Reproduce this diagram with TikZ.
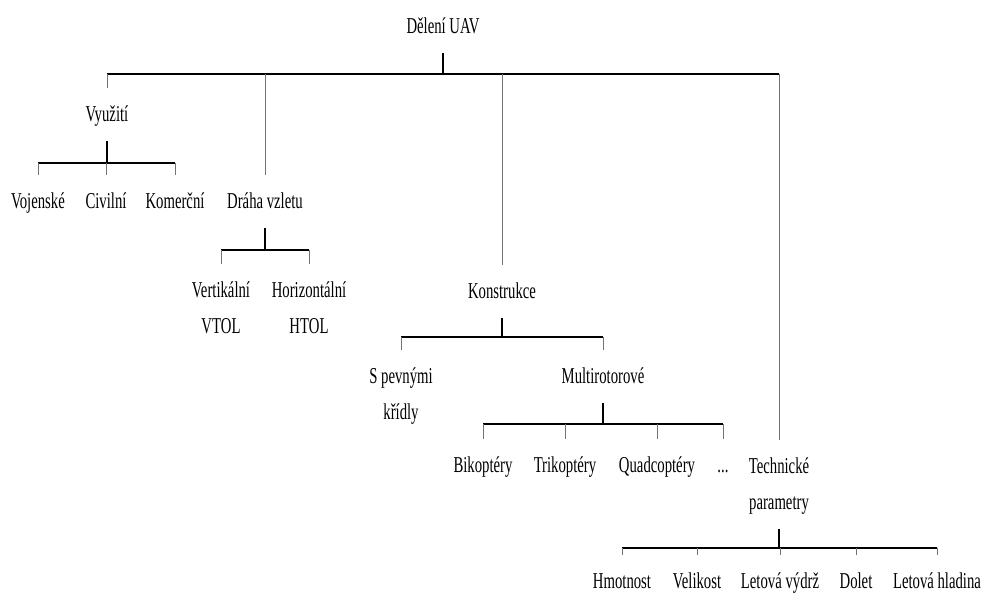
\documentclass[tikz,border=0pt]{standalone}
\usepackage{fontspec}
\setmainfont[FakeStretch=0.65]{Liberation Serif}
\usepackage{tikz}
\usetikzlibrary{positioning}

\begin{document}
\begin{tikzpicture}[x=0.75pt, y=-0.75pt,
    every node/.style={font=\fontsize{17}{27}\selectfont, anchor=base, align=center,
        inner xsep=1pt, inner ysep=0pt, text height=24.75pt, text depth=15pt},
    twoline/.style={text height=51.75pt},
    stem/.style={line width=0.9pt, black},
    bar/.style={line width=0.9pt, black},
    drop/.style={line width=0.6pt, black!55}]
        \useasboundingbox (0,0) rectangle (986,596);

        % uzly
        \node (uav) at (443,33) {Dělení UAV};
        \node (vyuziti) at (107,121) {Využití};
        \node (vojenske) at (38,208) {Vojenské};
        \node (civilni) at (106,208) {Civilní};
        \node (komercni) at (175,208) {Komerční};
        \node (draha) at (265,208) {Dráha vzletu};
        \node[twoline] (vtol) at (221,333) {Vertikální\\VTOL};
        \node[twoline] (htol) at (309,333) {Horizontální\\HTOL};
        \node (konstr) at (502,298) {Konstrukce};
        \node[twoline] (pevna) at (401,419) {S pevnými\\křídly};
        \node (multi) at (603,383) {Multirotorové};
        \node (bi) at (483,472) {Bikoptéry};
        \node (tri) at (565,472) {Trikoptéry};
        \node (quad) at (657,472) {Quadcoptéry};
        \node (dalsi) at (723,472) {...};
        \node[twoline] (tech) at (779,509) {Technické\\parametry};
        \node (hmot) at (622,588) {Hmotnost};
        \node (velik) at (697,588) {Velikost};
        \node (vydrz) at (780,588) {Letová výdrž};
        \node (dolet) at (856,588) {Dolet};
        \node (hlad) at (937,588) {Letová hladina};

        % rozbočení
        \coordinate (j0) at (443,74);
        \coordinate (j1) at (107,163);
        \coordinate (j2) at (265,250);
        \coordinate (j3) at (502,337);
        \coordinate (j4) at (603,424);
        \coordinate (j5) at (780,548);

        % Dělení UAV
        \draw[stem] (uav) -- (uav |- j0);
        \draw[bar] (vyuziti |- j0) -- (tech |- j0);
        \foreach \n in {vyuziti, draha, konstr, tech}
            \draw[drop] (\n |- j0) -- (\n);

        % Využití
        \draw[stem] (vyuziti) -- (vyuziti |- j1);
        \draw[bar] (vojenske |- j1) -- (komercni |- j1);
        \foreach \n in {vojenske, civilni, komercni}
            \draw[drop] (\n |- j1) -- (\n);

        % Dráha vzletu
        \draw[stem] (draha) -- (draha |- j2);
        \draw[bar] (vtol |- j2) -- (htol |- j2);
        \foreach \n in {vtol, htol}
            \draw[drop] (\n |- j2) -- (\n);

        % Konstrukce
        \draw[stem] (konstr) -- (konstr |- j3);
        \draw[bar] (pevna |- j3) -- (multi |- j3);
        \foreach \n in {pevna, multi}
            \draw[drop] (\n |- j3) -- (\n);

        % Multirotorové
        \draw[stem] (multi) -- (multi |- j4);
        \draw[bar] (bi |- j4) -- (dalsi |- j4);
        \foreach \n in {bi, tri, quad, dalsi}
            \draw[drop] (\n |- j4) -- (\n);

        % Technické parametry
        \draw[stem] (tech) -- (tech |- j5);
        \draw[bar] (hmot |- j5) -- (hlad |- j5);
        \foreach \n in {hmot, velik, vydrz, dolet, hlad}
            \draw[drop] (\n |- j5) -- (\n);
\end{tikzpicture}
\end{document}
